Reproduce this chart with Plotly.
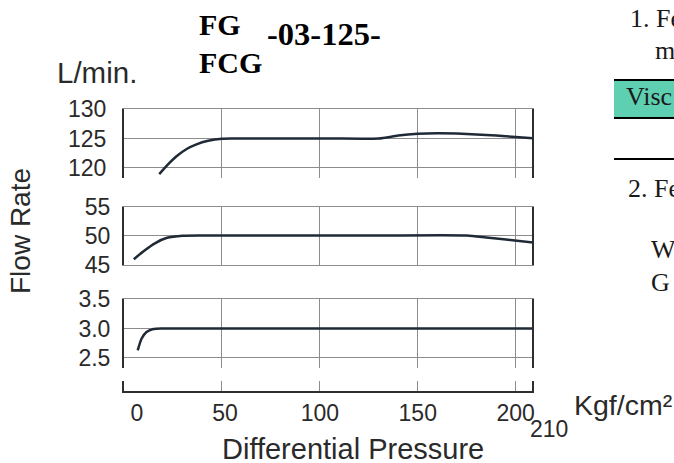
import plotly.graph_objects as go

W, H = 674, 463

# ---------------- data ----------------
# Panel 1: 125 L/min curve
p1_x = [18, 22, 27, 32, 37, 43, 50, 55, 80, 105, 130, 140, 150, 160, 170, 180, 190, 200, 209]
p1_y = [118.9, 120.4, 122.0, 123.2, 124.0, 124.6, 124.95, 125.0, 125.0, 125.0, 125.0, 125.5,
        125.8, 125.9, 125.85, 125.7, 125.5, 125.25, 125.05]
p1_ticks = [120, 125, 130]

# Panel 2: 50 L/min curve
p2_x = [5, 10, 16, 22, 30, 40, 80, 130, 175, 185, 195, 209]
p2_y = [45.9, 47.3, 48.7, 49.6, 49.95, 50.0, 50.0, 50.0, 50.0, 49.65, 49.3, 48.8]
p2_ticks = [45, 50, 55]

# Panel 3: 3 L/min curve
p3_x = [7, 9, 11.5, 15, 19, 25, 209]
p3_y = [2.63, 2.83, 2.94, 2.99, 3.0, 3.0, 3.0]
p3_ticks = [2.5, 3.0, 3.5]
p3_ticktext = ["2.5", "3.0", "3.5"]

x_ticks = [0, 50, 100, 150, 200]
x_ticktext = ["0", "50", "100", "150", "200"]
x_end_label = "210"

# ---------------- style ----------------
SANS = "Liberation Sans, Arial, sans-serif"
SERIF = "Liberation Serif, Times New Roman, serif"
GRID = "#8c8c8c"
DARK = "#2e2e2e"
CURVE = "#1f2a36"
TXT = "#2a2a2a"
NB = "\u00a0"


def px(x):
    return x / W


def py(y):
    return 1 - y / H


XDOM = [px(124), px(532.3)]
XRANGE = [0, 208.5]

# the reference prints the first labels a little right of their ticks
x_ticktext_shown = [NB * 4 + x_ticktext[0], NB + x_ticktext[1]] + x_ticktext[2:]

fig = go.Figure()
for i, (xs, ys) in enumerate([(p1_x, p1_y), (p2_x, p2_y), (p3_x, p3_y)], start=1):
    fig.add_trace(go.Scatter(
        x=xs, y=ys, mode="lines",
        line=dict(color=CURVE, width=2.5, shape="spline", smoothing=0.6),
        xaxis="x" if i == 1 else f"x{i}", yaxis="y" if i == 1 else f"y{i}",
        hoverinfo="skip", showlegend=False))

# dummy trace for the bottom axis
fig.add_trace(go.Scatter(x=[None], y=[None], xaxis="x4", yaxis="y4", showlegend=False))

common_x = dict(domain=XDOM, range=XRANGE, tickmode="array", tickvals=x_ticks[1:],
                showgrid=True, gridcolor=GRID, gridwidth=1, showticklabels=False,
                ticks="", zeroline=False, fixedrange=True)
common_y = dict(tickmode="array", showgrid=True, gridcolor=GRID, gridwidth=1,
                showline=True, mirror=True, linecolor=DARK, linewidth=2,
                ticks="", zeroline=False, tickfont=dict(family=SANS, size=23, color=TXT),
                fixedrange=True)

layout = dict(
    width=W, height=H, autosize=False,
    margin=dict(l=0, r=0, t=0, b=0, pad=0, autoexpand=False),
    paper_bgcolor="white", plot_bgcolor="white",
    showlegend=False,
    xaxis=dict(**common_x, anchor="y", side="top", showline=True, linecolor=GRID, linewidth=1),
    yaxis=dict(**common_y, domain=[py(178.3), py(109.3)], range=[118.18, 130],
               tickvals=p1_ticks, anchor="x", ticklabelstandoff=11),
    xaxis2=dict(**common_x, anchor="y2", showline=True, mirror=True, linecolor=GRID, linewidth=1),
    yaxis2=dict(**common_y, domain=[py(264.5), py(206.5)], range=[45, 55],
                tickvals=p2_ticks, anchor="x2", ticklabelstandoff=7),
    xaxis3=dict(**common_x, anchor="y3", side="top", showline=True, linecolor=GRID, linewidth=1),
    yaxis3=dict(**common_y, domain=[py(368), py(299)], range=[2.33, 3.5],
                tickvals=p3_ticks, ticktext=p3_ticktext, anchor="x3", ticklabelstandoff=7),
    xaxis4=dict(domain=XDOM, range=XRANGE, anchor="y4", tickmode="array",
                tickvals=x_ticks, ticktext=x_ticktext_shown, showgrid=False, zeroline=False,
                showline=True, linecolor=DARK, linewidth=2,
                ticks="inside", ticklen=10, tickcolor=GRID, tickwidth=1,
                tickfont=dict(family=SANS, size=23, color=TXT), fixedrange=True),
    yaxis4=dict(domain=[py(391), py(381)], range=[0, 1], anchor="x4",
                showline=True, mirror=True, linecolor=DARK, linewidth=2,
                showgrid=False, zeroline=False, showticklabels=False, ticks="",
                fixedrange=True),
)
fig.update_layout(**layout)


def ann(text, x, y, size, family, xanchor="left", color=TXT, bold=False, angle=0):
    fig.add_annotation(text=f"<b>{text}</b>" if bold else text, x=px(x), y=py(y),
                       xref="paper", yref="paper", xanchor=xanchor, yanchor="middle",
                       showarrow=False, textangle=angle,
                       font=dict(family=family, size=size, color=color))


# title
ann("FG", 197, 24.5, 30, SERIF, color="black", bold=True)
ann("FCG", 197, 62, 30, SERIF, color="black", bold=True)
ann("-03-125-", 265, 34, 32.5, SERIF, color="black", bold=True)

# axis texts
ann("L/min.", 55, 72.5, 29.5, SANS)
ann("Flow Rate", 21, 231, 28, SANS, xanchor="center", angle=-90)
ann("Differential Pressure", 353, 449, 29, SANS, xanchor="center")
ann(x_end_label, 548.5, 429, 23, SANS, xanchor="center")
ann("Kgf/cm²", 572, 405, 28.5, SANS)

# right-hand document fragment
fig.add_shape(type="rect", xref="paper", yref="paper", x0=px(614), x1=1.0,
              y0=py(118), y1=py(80), fillcolor="#5fcfb1", line=dict(width=0), layer="below")
for yy in (80, 118, 159):
    fig.add_shape(type="line", xref="paper", yref="paper", x0=px(614), x1=1.0,
                  y0=py(yy), y1=py(yy), line=dict(color="black", width=2))

ann("1. Fe", 628, 18.5, 26, SERIF, color="#1a1a1a")
ann("m", 653, 51, 26, SERIF, color="#1a1a1a")
ann("Visc", 624, 96, 26, SERIF, color="#1a1a1a")
ann("2. Fe", 626, 188.5, 26, SERIF, color="#1a1a1a")
ann("W", 649, 250, 26, SERIF, color="#1a1a1a")
ann("G", 649, 282.5, 26, SERIF, color="#1a1a1a")

fig.write_html("out.html",
               config={"displayModeBar": False, "staticPlot": True},
               post_script="document.body.style.margin='0';"
                           "document.body.style.overflow='hidden';")
